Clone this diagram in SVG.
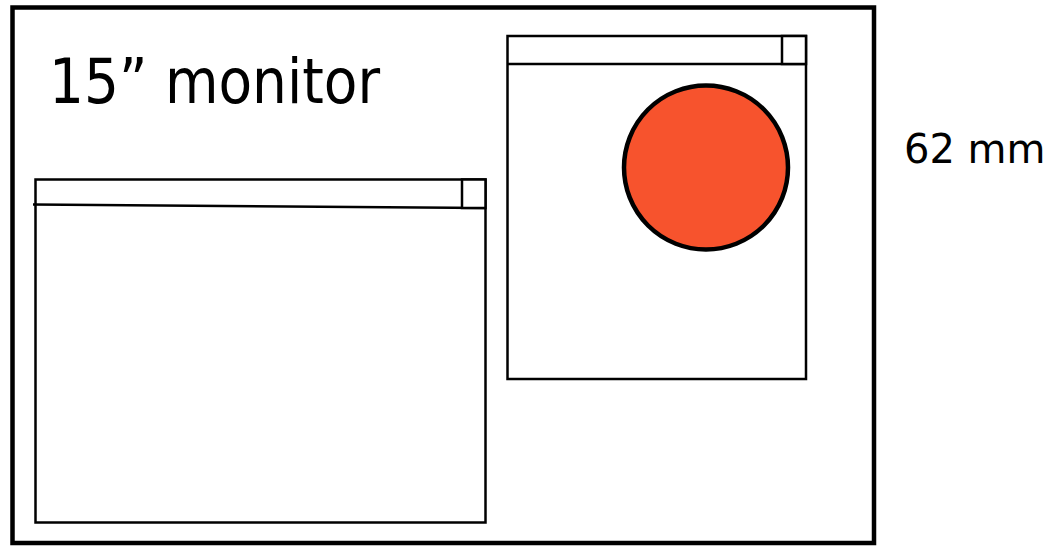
<svg xmlns="http://www.w3.org/2000/svg" width="1057" height="546" viewBox="0 0 1057 546">
<style>
.win{fill:#fff;stroke:#000;stroke-width:2.5}
.ln{stroke:#000;stroke-width:2.5;fill:none}
.lbl{font-family:"DejaVu Sans","Liberation Sans",sans-serif;fill:#000}
</style>
<rect width="1057" height="546" fill="#fff"/>
<g id="monitor">
<rect x="12.5" y="7.5" width="861.5" height="535.5" fill="#fff" stroke="#000" stroke-width="4.5"/>
<text class="lbl" x="49" y="103" font-size="63" font-stretch="condensed" textLength="331" lengthAdjust="spacingAndGlyphs">15” monitor</text>
</g>
<g id="window-left">
<rect class="win" x="35.5" y="179.5" width="450" height="343"/>
<line class="ln" x1="33" y1="204.5" x2="486" y2="208"/>
<rect class="win" x="462" y="179.5" width="23.5" height="28.5"/>
</g>
<g id="window-right">
<rect class="win" x="507.5" y="36" width="298.5" height="343"/>
<line class="ln" x1="507.5" y1="64" x2="806" y2="64"/>
<rect class="win" x="782" y="36" width="24" height="28"/>
<circle cx="706" cy="167.5" r="82" fill="#F7532D" stroke="#000" stroke-width="4.5"/>
</g>
<g id="label-62mm">
<text class="lbl" x="904" y="163" font-size="40">62 mm</text>
</g>
<g id="connectors"/>
</svg>
